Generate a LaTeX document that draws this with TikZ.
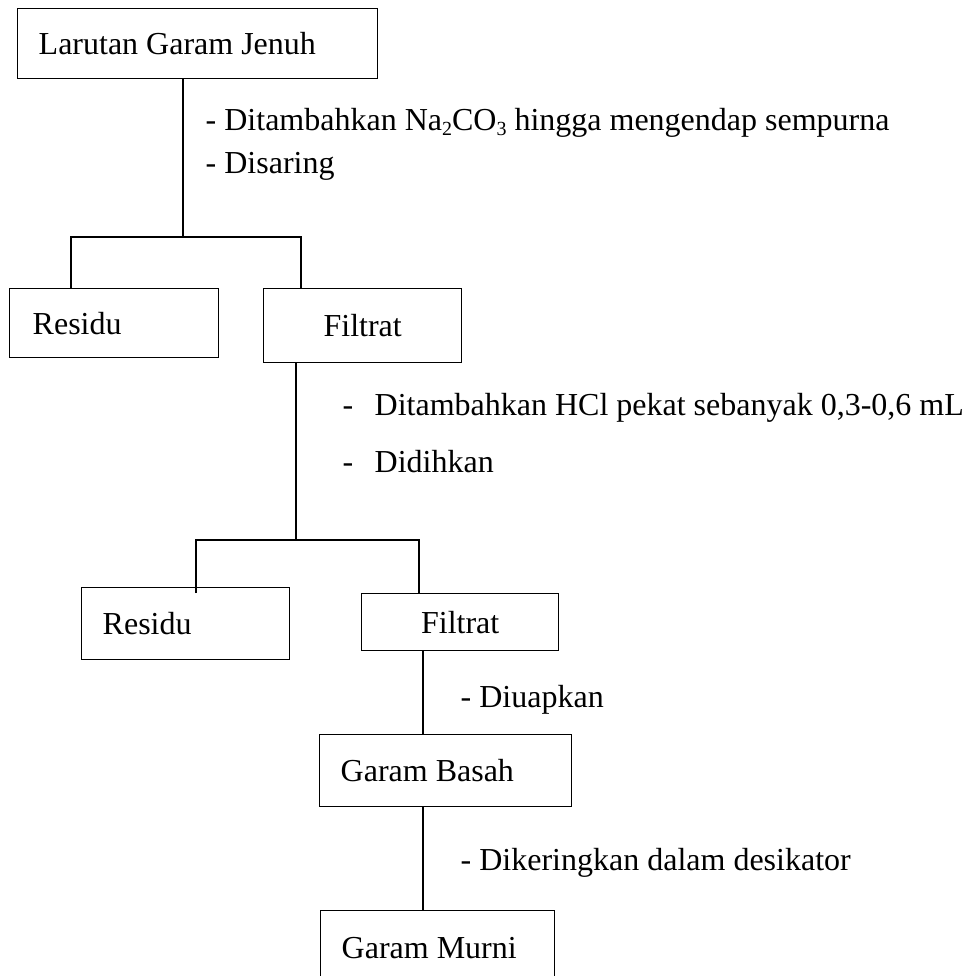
\documentclass[tikz,border=0pt]{standalone}
\usepackage{fontspec}
\setmainfont{Liberation Serif}
\usetikzlibrary{calc}

\begin{document}
\begin{tikzpicture}[x=0.5pt, y=-0.5pt, line width=0.7pt,
    font=\fontsize{16}{19}\selectfont,
    box/.style={draw, anchor=north west, inner xsep=10.5pt, inner ysep=0pt},
    note/.style={anchor=base west, inner sep=0pt}]
    \useasboundingbox (0,0) rectangle (968,976);
    \clip (0,0) rectangle (968,976);

    % Boxes
    \node (jenuh) [box, minimum width=180pt, minimum height=35pt] at (17,8) {\makebox[159pt][l]{Larutan Garam Jenuh}};
    \node (residu1) [box, inner xsep=11.5pt, minimum width=104.5pt, minimum height=34.5pt] at (9,288) {\makebox[81.5pt][l]{Residu}};
    \node (filtrat1) [box, minimum width=99pt, minimum height=37pt] at (263,288) {\makebox[78pt]{Filtrat}};
    \node (residu2) [box, minimum width=104pt, minimum height=36pt] at (81,587) {\makebox[83pt][l]{Residu}};
    \node (filtrat2) [box, minimum width=98.5pt, minimum height=28.5pt] at (361,593) {\makebox[77.5pt]{Filtrat}};
    \node (basah) [box, minimum width=126pt, minimum height=36pt] at (319,734) {\makebox[105pt][l]{Garam Basah}};
    \node (murni) [box, minimum width=117pt, minimum height=37.5pt] at (320,910) {\makebox[96pt][l]{Garam Murni}};

    % Split points
    \coordinate (split1) at (183,237);
    \coordinate (bar1l) at (71,237);
    \coordinate (bar1r) at (301,237);
    \coordinate (split2) at (296,540);
    \coordinate (bar2l) at (196,540);
    \coordinate (bar2r) at (419,540);
    \coordinate (trunk3) at (423,0);

    % Lines
    \draw (jenuh.south -| split1) -- (split1);
    \draw (bar1l |- residu1.north) -- (bar1l) -- (bar1r) -- (bar1r |- filtrat1.north);
    \draw (filtrat1.south -| split2) -- (split2);
    \draw ($(bar2l |- residu2.north)+(0,6)$) -- (bar2l) -- (bar2r) -- (bar2r |- filtrat2.north);
    \draw (filtrat2.south -| trunk3) -- (basah.north -| trunk3);
    \draw (basah.south -| trunk3) -- (murni.north -| trunk3);

    % Steps
    \node (step1a) [note] at (205,130) {- Ditambahkan Na\raisebox{-0.35ex}{\fontsize{10}{10}\selectfont 2}CO\raisebox{-0.35ex}{\fontsize{10}{10}\selectfont 3} hingga mengendap sempurna};
    \node (step1b) [note] at (205,173) {- Disaring};
    \node (step2a) [note] at (342,415) {\makebox[16pt][l]{-}Ditambahkan HCl pekat sebanyak 0,3-0,6 mL};
    \node (step2b) [note] at (342,472) {\makebox[16pt][l]{-}Didihkan};
    \node (step3) [note] at (460,707) {- Diuapkan};
    \node (step4) [note] at (460,870) {- Dikeringkan dalam desikator};
\end{tikzpicture}
\end{document}
